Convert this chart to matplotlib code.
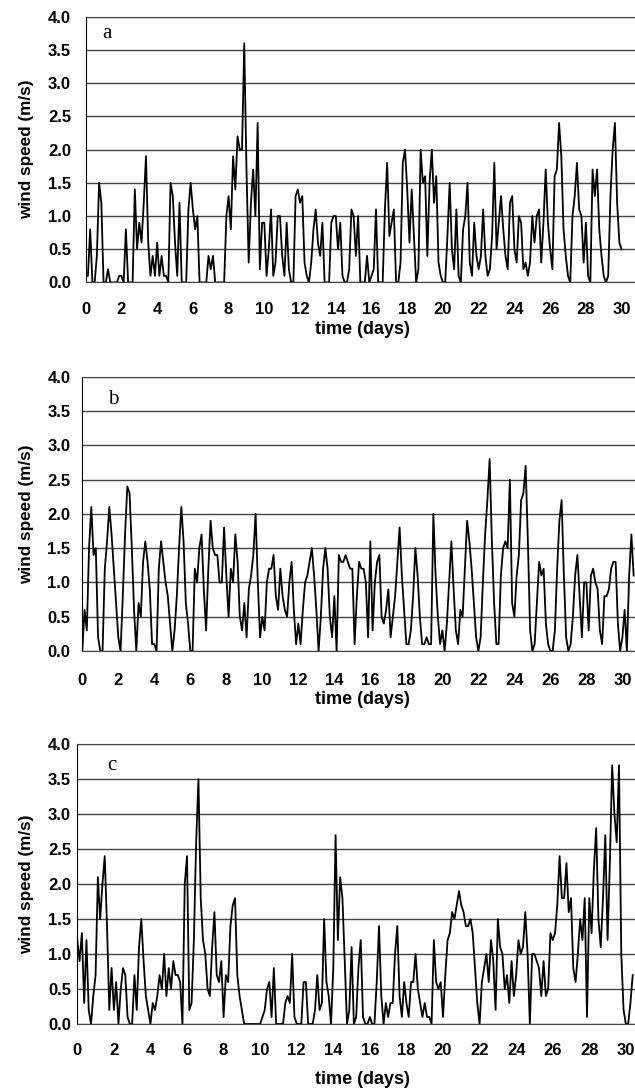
import numpy as np
import matplotlib
matplotlib.use("Agg")
import matplotlib.pyplot as plt
from matplotlib.ticker import FormatStrFormatter

# wind speed (m/s), every 3 hours (8 values per day)
speed_a = [
    0.1, 0.1, 0.8, 0.0, 0.0, 0.4, 1.5, 1.2,
    0.0, 0.0, 0.2, 0.0, 0.0, 0.0, 0.0, 0.1,
    0.1, 0.0, 0.8, 0.0, 0.0, 0.0, 1.4, 0.5,
    0.9, 0.6, 1.2, 1.9, 0.6, 0.1, 0.4, 0.1,
    0.6, 0.1, 0.4, 0.1, 0.1, 0.0, 1.5, 1.3,
    0.6, 0.1, 1.2, 0.0, 0.0, 0.0, 1.1, 1.5,
    1.1, 0.8, 1.0, 0.0, 0.0, 0.0, 0.0, 0.4,
    0.2, 0.4, 0.0, 0.0, 0.0, 0.0, 0.0, 1.0,
    1.3, 0.8, 1.9, 1.4, 2.2, 2.0, 2.0, 3.6,
    1.7, 0.3, 1.2, 1.7, 1.0, 2.4, 0.2, 0.9,
    0.9, 0.1, 0.5, 1.1, 0.1, 0.3, 1.0, 1.0,
    0.4, 0.1, 0.9, 0.2, 0.0, 0.0, 1.3, 1.4,
    1.2, 1.3, 0.3, 0.1, 0.0, 0.3, 0.8, 1.1,
    0.6, 0.4, 0.9, 0.0, 0.0, 0.0, 0.9, 1.0,
    1.0, 0.5, 0.9, 0.1, 0.0, 0.0, 0.2, 1.1,
    1.0, 0.4, 1.0, 0.0, 0.0, 0.0, 0.4, 0.0,
    0.1, 0.2, 1.1, 0.0, 0.0, 0.0, 1.1, 1.8,
    0.7, 0.9, 1.1, 0.0, 0.0, 0.3, 1.8, 2.0,
    1.4, 0.6, 1.4, 0.7, 0.0, 0.2, 2.0, 1.5,
    1.6, 0.4, 1.5, 2.0, 1.2, 1.6, 0.3, 0.1,
    0.0, 0.0, 0.7, 1.5, 0.5, 0.2, 1.1, 0.1,
    0.0, 0.8, 1.0, 1.5, 0.3, 0.1, 0.9, 0.4,
    0.2, 0.4, 1.1, 0.4, 0.1, 0.2, 0.7, 1.8,
    0.5, 0.9, 1.3, 0.8, 0.4, 0.2, 1.2, 1.3,
    0.5, 0.3, 1.0, 0.9, 0.2, 0.3, 0.1, 0.3,
    1.0, 0.6, 1.0, 1.1, 0.3, 0.9, 1.7, 0.9,
    0.5, 0.2, 1.6, 1.7, 2.4, 1.9, 0.8, 0.4,
    0.1, 0.0, 1.0, 1.3, 1.8, 1.1, 1.0, 0.3,
    0.9, 0.1, 0.0, 1.7, 1.3, 1.7, 0.8, 0.4,
    0.1, 0.0, 0.1, 1.3, 2.0, 2.4, 1.2, 0.6,
    0.5,
]

speed_b = [
    0.0, 0.6, 0.3, 1.5, 2.1, 1.4, 1.5, 0.2,
    0.0, 0.0, 1.2, 1.6, 2.1, 1.7, 1.2, 0.7,
    0.2, 0.0, 0.8, 1.7, 2.4, 2.3, 1.5, 0.6,
    0.0, 0.7, 0.5, 1.3, 1.6, 1.3, 0.9, 0.1,
    0.1, 0.0, 1.2, 1.6, 1.3, 1.0, 0.8, 0.4,
    0.0, 0.3, 0.8, 1.5, 2.1, 1.6, 0.7, 0.4,
    0.0, 0.0, 1.2, 1.0, 1.5, 1.7, 0.9, 0.3,
    1.2, 1.9, 1.5, 1.4, 1.4, 1.0, 1.0, 1.8,
    1.1, 0.5, 1.2, 1.0, 1.7, 1.3, 0.5, 0.3,
    0.7, 0.2, 0.9, 1.1, 1.4, 2.0, 1.0, 0.2,
    0.5, 0.3, 1.0, 1.2, 1.2, 1.4, 0.8, 0.6,
    1.2, 0.8, 0.6, 0.5, 1.0, 1.3, 0.6, 0.1,
    0.4, 0.1, 0.6, 1.0, 1.1, 1.3, 1.5, 1.1,
    0.6, 0.0, 0.5, 1.2, 1.5, 1.2, 0.5, 0.2,
    0.8, 0.0, 1.4, 1.3, 1.3, 1.4, 1.3, 1.2,
    1.2, 0.1, 0.8, 1.3, 1.2, 1.2, 1.0, 0.2,
    1.6, 0.3, 1.0, 1.3, 1.4, 0.5, 0.4, 0.6,
    0.9, 0.2, 0.5, 0.8, 1.3, 1.8, 1.1, 0.6,
    0.1, 0.1, 0.3, 0.8, 1.5, 1.1, 0.5, 0.1,
    0.1, 0.2, 0.1, 0.1, 2.0, 1.1, 0.5, 0.1,
    0.3, 0.0, 0.4, 1.0, 1.6, 0.9, 0.3, 0.1,
    0.6, 0.5, 1.2, 1.9, 1.6, 1.2, 0.7, 0.2,
    0.0, 0.2, 1.0, 1.7, 2.2, 2.8, 1.6, 0.7,
    0.1, 0.1, 1.1, 1.5, 1.6, 1.5, 2.5, 0.7,
    0.5, 1.1, 1.4, 2.2, 2.3, 2.7, 1.6, 0.3,
    0.0, 0.1, 0.7, 1.3, 1.1, 1.2, 0.4, 0.1,
    0.0, 0.0, 0.3, 1.2, 1.9, 2.2, 1.1, 0.2,
    0.0, 0.1, 0.5, 1.1, 1.4, 0.8, 0.2, 1.0,
    1.0, 0.3, 1.1, 1.2, 1.0, 0.9, 0.3, 0.1,
    0.8, 0.8, 0.9, 1.2, 1.3, 1.3, 0.4, 0.0,
    0.2, 0.6, 0.0, 1.1, 1.7, 1.1,
]

speed_c = [
    1.2, 0.9, 1.3, 0.3, 1.2, 0.2, 0.0, 0.4,
    0.7, 2.1, 1.5, 2.0, 2.4, 1.4, 0.2, 0.8,
    0.2, 0.6, 0.0, 0.5, 0.8, 0.7, 0.1, 0.0,
    0.0, 0.7, 0.2, 1.1, 1.5, 0.9, 0.4, 0.2,
    0.0, 0.3, 0.2, 0.4, 0.7, 0.5, 1.0, 0.4,
    0.8, 0.5, 0.9, 0.7, 0.7, 0.6, 0.0, 2.0,
    2.4, 0.2, 0.3, 1.2, 2.6, 3.5, 1.8, 1.2,
    1.0, 0.5, 0.4, 1.1, 1.6, 0.7, 0.6, 0.9,
    0.1, 0.7, 0.6, 1.4, 1.7, 1.8, 0.7, 0.4,
    0.2, 0.0, 0.0, 0.0, 0.0, 0.0, 0.0, 0.0,
    0.0, 0.1, 0.2, 0.5, 0.6, 0.1, 0.8, 0.0,
    0.0, 0.0, 0.0, 0.3, 0.4, 0.3, 1.0, 0.1,
    0.0, 0.0, 0.0, 0.6, 0.6, 0.0, 0.0, 0.0,
    0.2, 0.7, 0.2, 0.3, 1.5, 0.6, 0.4, 0.0,
    0.8, 2.7, 1.2, 2.1, 1.8, 0.9, 0.0, 0.2,
    1.1, 0.0, 0.1, 0.8, 1.2, 0.1, 0.0, 0.0,
    0.1, 0.0, 0.0, 0.6, 1.4, 0.4, 0.0, 0.3,
    0.1, 0.3, 0.3, 1.0, 1.4, 0.4, 0.1, 0.6,
    0.3, 0.1, 0.6, 0.6, 1.0, 0.5, 0.3, 0.1,
    0.3, 0.1, 0.1, 0.0, 1.2, 0.6, 0.5, 0.6,
    0.1, 0.7, 1.2, 1.3, 1.6, 1.5, 1.7, 1.9,
    1.7, 1.6, 1.4, 1.4, 1.5, 1.3, 0.8, 0.3,
    0.0, 0.6, 0.8, 1.0, 0.6, 1.2, 0.9, 0.2,
    1.5, 1.1, 1.0, 0.5, 0.7, 0.3, 0.9, 0.4,
    0.7, 1.2, 1.0, 1.1, 1.6, 1.0, 0.0, 1.0,
    1.0, 0.9, 0.8, 0.4, 0.9, 0.4, 0.5, 1.3,
    1.2, 1.3, 1.7, 2.4, 1.8, 1.8, 2.3, 1.6,
    1.8, 0.8, 0.6, 1.0, 1.5, 1.2, 1.8, 0.1,
    1.8, 1.3, 2.2, 2.8, 1.5, 1.1, 1.8, 2.7,
    1.2, 2.3, 3.7, 3.0, 2.6, 3.7, 1.0, 0.2,
    0.0, 0.0, 0.3, 0.7,
]

day_ticks = list(range(0, 31, 2))
speed_ticks = [0.0, 0.5, 1.0, 1.5, 2.0, 2.5, 3.0, 3.5, 4.0]

W, H = 635, 1090
fig = plt.figure(figsize=(W / 100, H / 100), dpi=100)

sans = ['Liberation Sans', 'DejaVu Sans']
serif = ['Liberation Serif', 'DejaVu Serif']

# panel: data, letter, left/top/bottom px, xmax, y tick pad, x tick pad, xlabel y, letter pos
panels = [
    (speed_a, 'a', 85.7, 16.7, 282.5, 30.75, 10.5, 14.0, 329, (102, 38)),
    (speed_b, 'b', 82.3, 376.7, 651.0, 30.7, 8.5, 15.5, 700, (108, 404)),
    (speed_c, 'c', 77.3, 744.3, 1024.0, 30.5, 4.5, 14.0, 1079, (107, 770)),
]

for speed, letter, left, top, bottom, xmax, ypad, xpad, xlab_y, (lx, ly) in panels:
    ax = fig.add_axes([left / W, 1 - bottom / H, (W - left) / W, (bottom - top) / H])
    t = np.arange(len(speed)) / 8.0
    ax.plot(t, speed, color='black', lw=1.3, zorder=3)
    ax.set_xlim(0, xmax)
    ax.set_ylim(0, 4.0)
    ax.set_xticks(day_ticks)
    ax.set_yticks(speed_ticks)
    ax.yaxis.set_major_formatter(FormatStrFormatter('%.1f'))
    ax.yaxis.grid(True, color='#444444', lw=1.0, zorder=1)
    ax.tick_params(axis='both', length=0, labelsize=12)
    ax.tick_params(axis='y', pad=ypad)
    ax.tick_params(axis='x', pad=xpad)
    for lab in ax.get_xticklabels() + ax.get_yticklabels():
        lab.set_family(sans)
        lab.set_fontweight('bold')
    ax.spines['right'].set_visible(False)
    ax.spines['top'].set_color('#444444')
    ax.spines['bottom'].set_color('#444444')
    ax.spines['left'].set_color('black')
    fig.text(lx / W, 1 - ly / H, letter, family=serif, fontsize=15,
             ha='left', va='baseline')
    fig.text(362 / W, 1 - xlab_y / H, 'time (days)', family=sans, fontsize=13,
             fontweight='bold', ha='center', va='center')
    fig.text(27 / W, 1 - (top + bottom) / 2 / H, 'wind speed (m/s)', family=sans,
             fontsize=12.3, fontweight='bold', rotation=90, ha='center', va='center')

fig.savefig('out.png', dpi=100)
